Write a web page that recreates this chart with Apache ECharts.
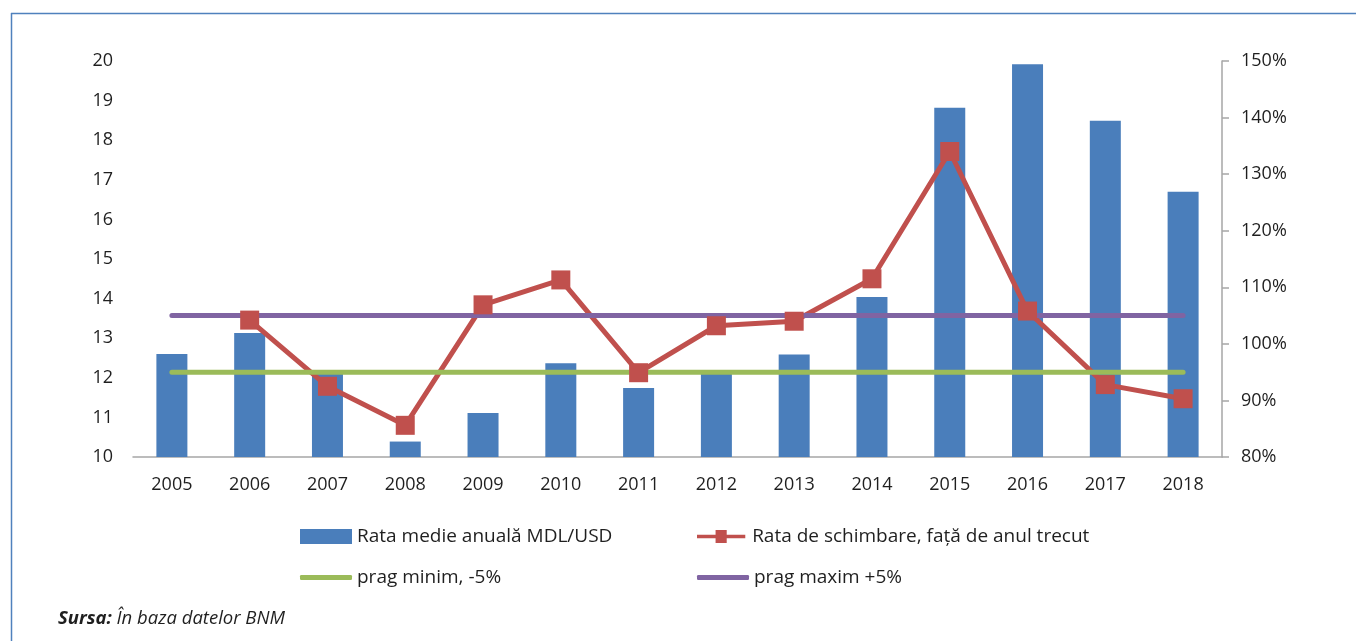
<!DOCTYPE html>
<html>
	<head>
		<meta charset="utf-8">
		<title>Rata medie anuală MDL/USD</title>
		<style>
			html, body { margin: 0; padding: 0; background: #fff; }
			#main { width: 1356px; height: 641px; }
		</style>
	</head>
	<body>
		<div id="main"></div>
		<script src="https://cdn.jsdelivr.net/npm/echarts@6/dist/echarts.min.js"></script>
		<script type="text/javascript">
			// ani
			var years = ['2005', '2006', '2007', '2008', '2009', '2010', '2011', '2012', '2013', '2014', '2015', '2016', '2017', '2018'];
			// rata medie anuala MDL/USD
			var rataMedie = [12.60, 13.13, 12.14, 10.39, 11.11, 12.37, 11.74, 12.11, 12.59, 14.04, 18.82, 19.92, 18.49, 16.70];
			// rata de schimbare fata de anul trecut, %
			var rataSchimbare = ['-', 104.2, 92.5, 85.6, 106.9, 111.3, 94.9, 103.2, 104.0, 111.5, 134.0, 105.8, 92.8, 90.3];
			var pragMinim = [95, 95, 95, 95, 95, 95, 95, 95, 95, 95, 95, 95, 95, 95];
			var pragMaxim = [105, 105, 105, 105, 105, 105, 105, 105, 105, 105, 105, 105, 105, 105];

			var numeSerii = ['Rata medie anuală MDL/USD', 'Rata de schimbare, față de anul trecut', 'prag minim, -5%', 'prag maxim +5%'];

			var fontFam = '"Open Sans", "Noto Sans", sans-serif';
			var textColor = '#1f1f1f';
			var axisGray = '#a6a6a6';

			// icon linie + patrat pentru legenda
			var iconLinieMarker = 'path://M0,5 h20 v-5 h12 v5 h20 v4 h-20 v5 h-12 v-5 h-20 z';

			function legendAt(name, left, top, icon, h) {
				return {
					data: [{ name: name, icon: icon }],
					left: left,
					top: top,
					orient: 'horizontal',
					itemWidth: 52,
					itemHeight: h,
					padding: 0,
					selectedMode: false,
					textStyle: { fontFamily: fontFam, fontSize: 19, color: textColor }
				};
			}

			var myChart = echarts.init(document.getElementById('main'));
			var option = {
				animation: false,
				textStyle: { fontFamily: fontFam },
				grid: { left: 133, right: 134, top: 61, bottom: 184, containLabel: false },
				legend: [
					legendAt(numeSerii[0], 300, 527, 'rect', 15),
					legendAt(numeSerii[1], 697, 527, iconLinieMarker, 13),
					legendAt(numeSerii[2], 300, 568, 'roundRect', 5),
					legendAt(numeSerii[3], 697, 568, 'roundRect', 5)
				],
				xAxis: {
					type: 'category',
					data: years,
					boundaryGap: true,
					axisLine: { show: true, lineStyle: { color: axisGray, width: 1.5 } },
					axisTick: { show: false },
					axisLabel: { fontFamily: fontFam, fontSize: 18, color: textColor, margin: 19 }
				},
				yAxis: [{
					type: 'value',
					min: 10,
					max: 20,
					interval: 1,
					axisLine: { show: false },
					axisTick: { show: false },
					splitLine: { show: false },
					axisLabel: { fontFamily: fontFam, fontSize: 18, color: textColor, margin: 20 }
				}, {
					type: 'value',
					position: 'right',
					min: 80,
					max: 150,
					interval: 10,
					axisLine: { show: true, lineStyle: { color: axisGray, width: 1.5 } },
					axisTick: { show: true, inside: false, length: 7, lineStyle: { color: axisGray, width: 1.5 } },
					splitLine: { show: false },
					axisLabel: { fontFamily: fontFam, fontSize: 18, color: textColor, margin: 19, formatter: '{value}%' }
				}],
				series: [{
					name: numeSerii[0],
					type: 'bar',
					data: rataMedie,
					barWidth: 31,
					itemStyle: { color: '#4a7ebb' }
				}, {
					name: numeSerii[1],
					type: 'line',
					yAxisIndex: 1,
					data: rataSchimbare,
					symbol: 'rect',
					symbolSize: 19,
					lineStyle: { color: '#c0504d', width: 5 },
					itemStyle: { color: '#c0504d' }
				}, {
					name: numeSerii[2],
					type: 'line',
					yAxisIndex: 1,
					data: pragMinim,
					symbol: 'none',
					lineStyle: { color: '#9bbb59', width: 5, cap: 'round' },
					itemStyle: { color: '#9bbb59' }
				}, {
					name: numeSerii[3],
					type: 'line',
					yAxisIndex: 1,
					data: pragMaxim,
					symbol: 'none',
					lineStyle: { color: '#8064a2', width: 5, cap: 'round' },
					itemStyle: { color: '#8064a2' }
				}],
				graphic: [{
					type: 'line',
					shape: { x1: 11.5, y1: 13, x2: 11.5, y2: 641 },
					style: { stroke: '#4f81bd', lineWidth: 1.5 }
				}, {
					type: 'line',
					shape: { x1: 11, y1: 13.5, x2: 1356, y2: 13.5 },
					style: { stroke: '#4f81bd', lineWidth: 1.5 }
				}, {
					type: 'text',
					left: 58,
					top: 609,
					style: {
						text: '{b|Sursa:} În baza datelor BNM',
						fill: textColor,
						font: 'italic 18.5px ' + fontFam,
						rich: {
							b: { fontWeight: 'bold', fontStyle: 'italic', fontSize: 18.5, fontFamily: fontFam, fill: textColor }
						}
					}
				}]
			};
			myChart.setOption(option);
		</script>
	</body>
</html>
